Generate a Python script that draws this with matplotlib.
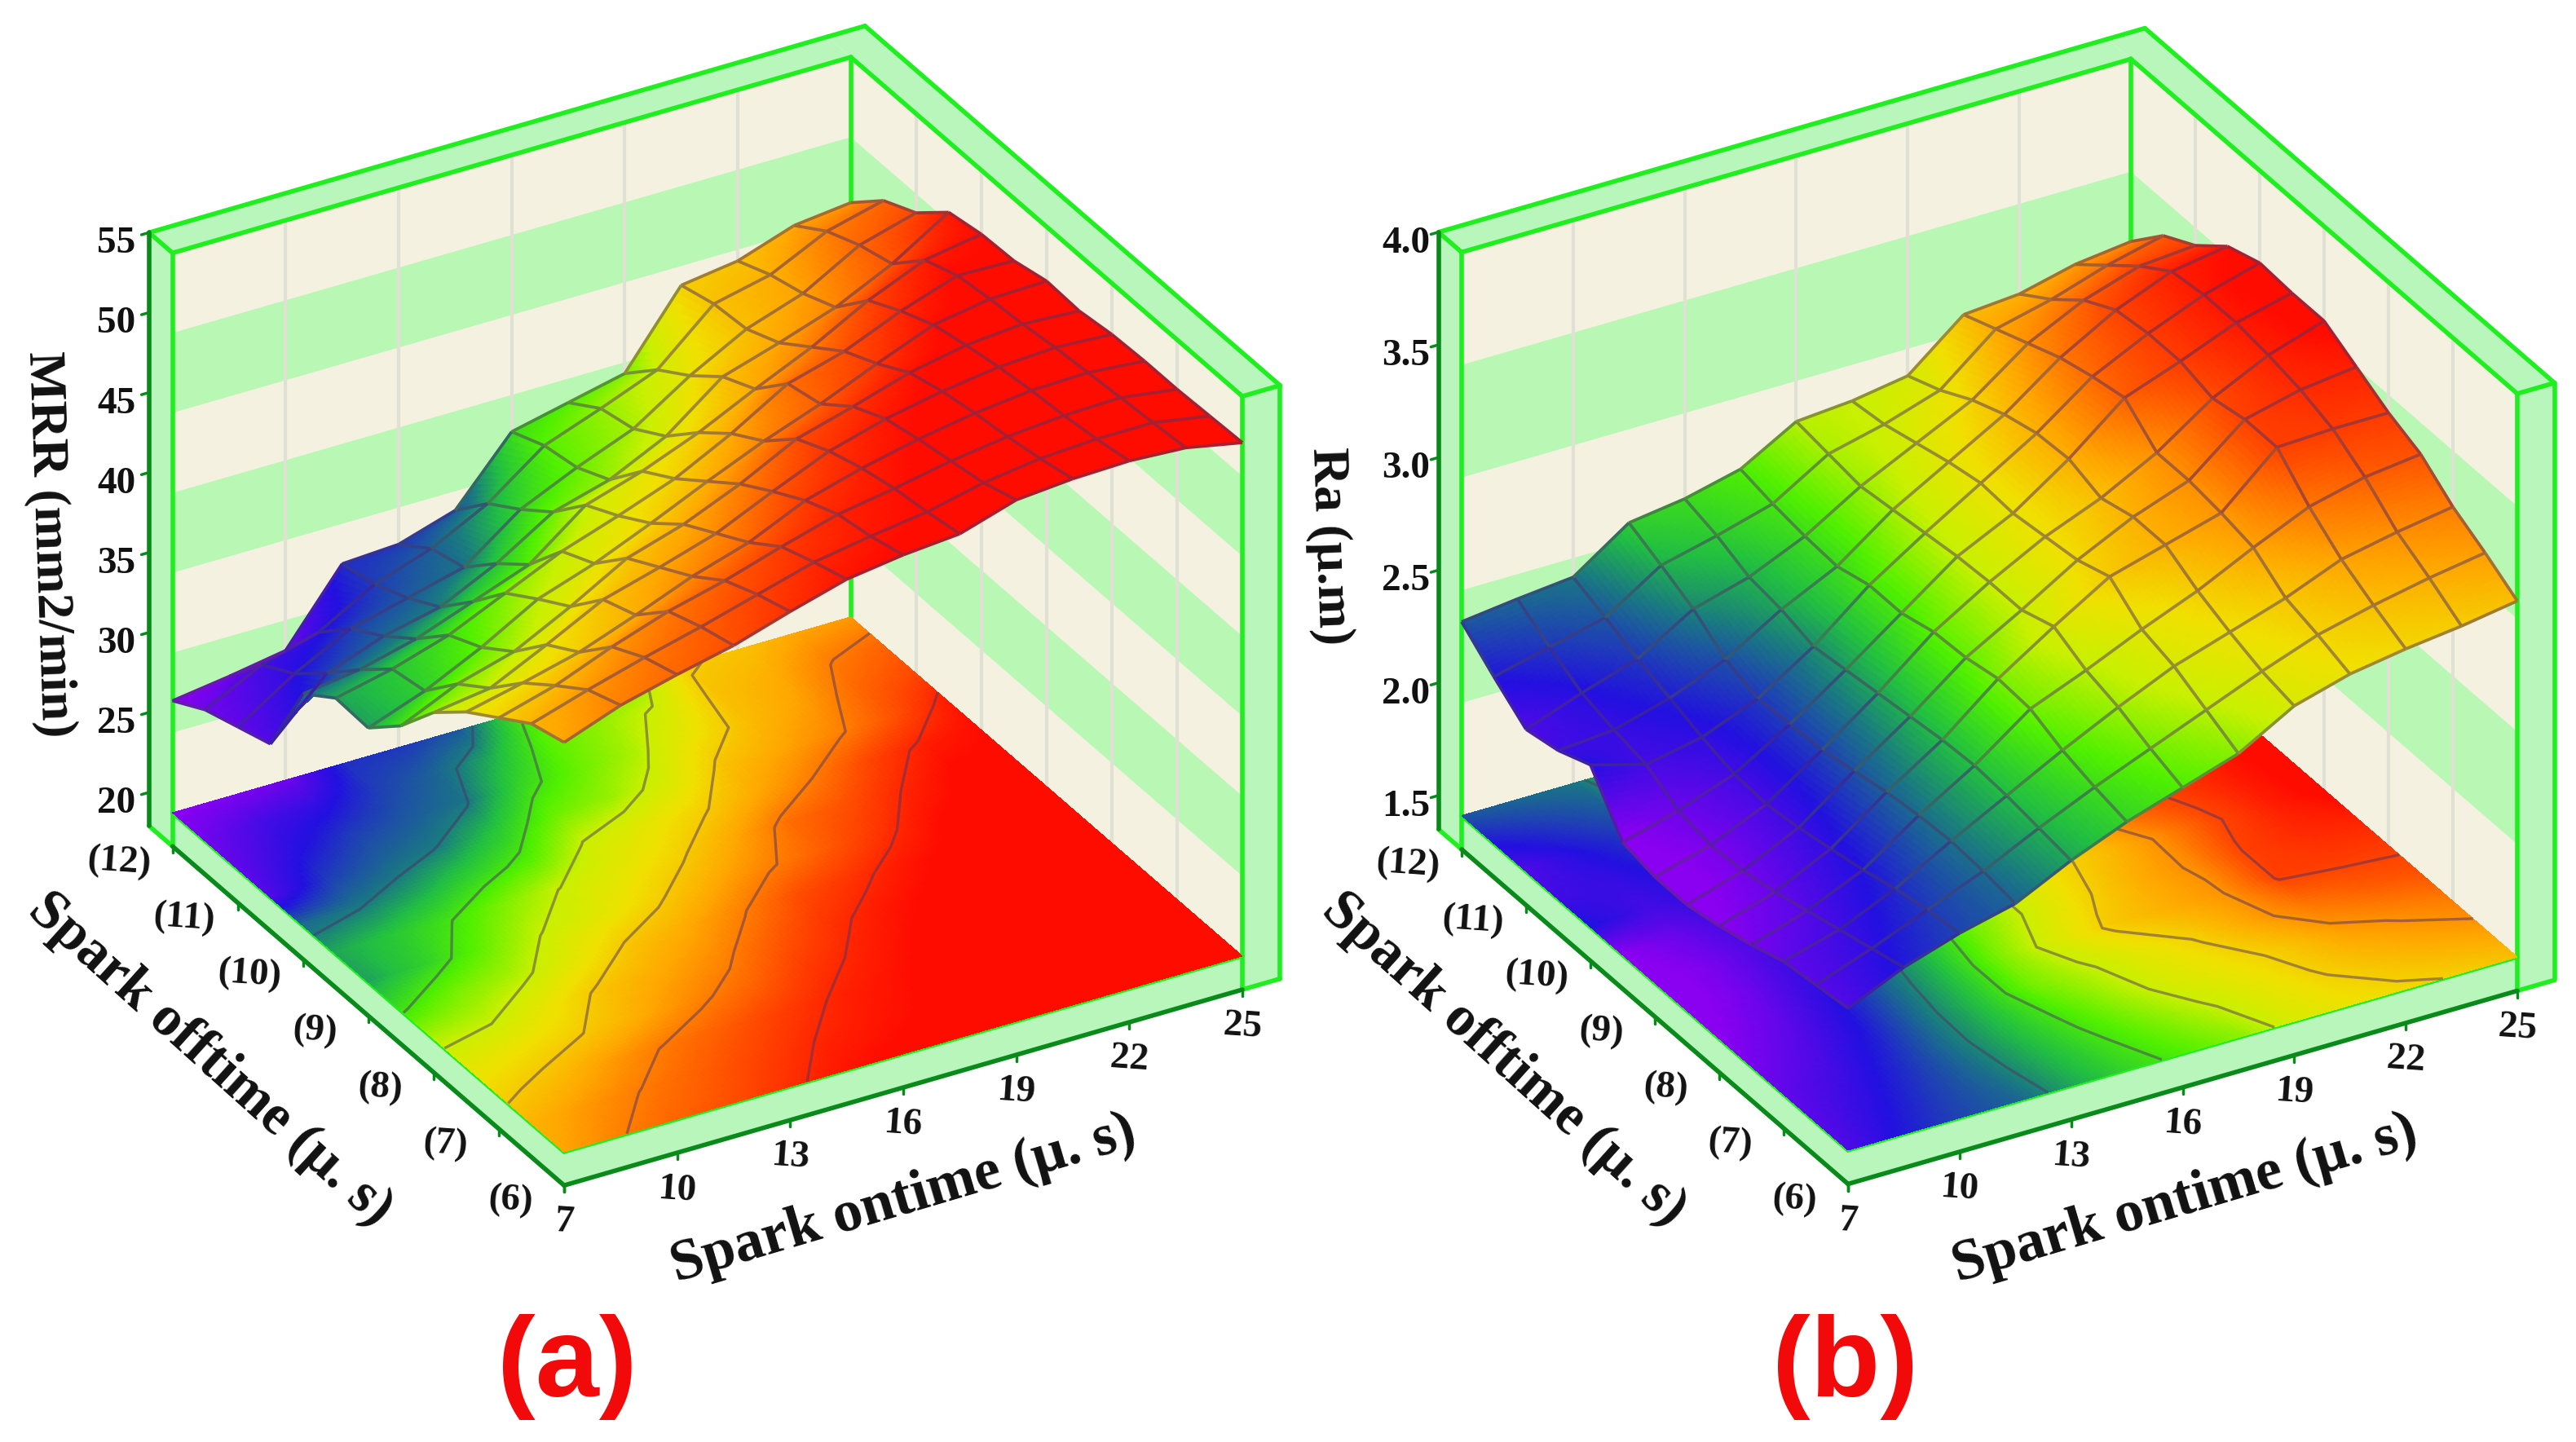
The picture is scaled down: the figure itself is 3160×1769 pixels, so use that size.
import numpy as np
import matplotlib
matplotlib.use('Agg')
from matplotlib import pyplot as plt
from matplotlib.colors import LinearSegmentedColormap
from mpl_toolkits.mplot3d import proj3d
from mpl_toolkits.mplot3d.art3d import Line3DCollection, Poly3DCollection

W, H = 3160, 1769

spark_ontime = np.array([7, 8.5, 10, 11.5, 13, 14.5, 16, 17.5, 19, 20.5, 22, 23.5, 25])
spark_offtime = np.array([6, 6.5, 7, 7.5, 8, 8.5, 9, 9.5, 10, 10.5, 11, 11.5, 12])
ontime_ticks = [7, 10, 13, 16, 19, 22, 25]
offtime_ticks = [6, 7, 8, 9, 10, 11, 12]
mrr_ticks = [20, 25, 30, 35, 40, 45, 50, 55]
ra_ticks = [1.5, 2.0, 2.5, 3.0, 3.5, 4.0]

# rows run from offtime 6 to offtime 12
mrr = np.array([
    [45.6, 46.9, 47.8, 48.6, 49.7, 50.7, 51.2, 51.5, 52.6, 52.9, 53.0, 52.8, 52.1],
    [45.0, 46.1, 47.1, 48.0, 49.0, 50.0, 50.6, 51.1, 51.9, 52.4, 52.6, 52.6, 52.0],
    [43.6, 44.6, 46.0, 47.2, 48.1, 49.2, 50.2, 50.8, 51.5, 52.0, 52.3, 52.4, 51.9],
    [42.2, 43.0, 43.9, 45.2, 46.6, 47.7, 49.3, 50.3, 51.1, 51.7, 52.1, 52.2, 51.9],
    [40.4, 40.9, 42.6, 44.4, 45.4, 46.5, 48.1, 49.6, 50.6, 51.3, 51.8, 52.0, 51.8],
    [37.8, 39.4, 40.4, 42.2, 44.2, 45.3, 46.8, 48.6, 49.6, 50.7, 51.4, 51.7, 51.5],
    [35.9, 37.2, 38.9, 40.9, 42.1, 43.6, 45.2, 46.7, 48.0, 49.5, 50.9, 51.5, 51.6],
    [36.0, 36.8, 37.9, 39.5, 41.1, 42.3, 43.6, 45.4, 47.5, 48.5, 50.0, 51.2, 51.1],
    [34.5, 35.0, 35.9, 37.2, 38.5, 41.2, 42.3, 43.7, 45.4, 47.0, 48.9, 50.4, 51.0],
    [29.6, 33.0, 34.3, 35.1, 36.8, 39.0, 40.0, 41.7, 44.4, 45.5, 46.7, 48.4, 50.6],
    [28.9, 31.2, 33.0, 33.9, 34.8, 37.4, 39.0, 40.4, 42.7, 44.6, 45.8, 47.8, 48.8],
    [28.2, 30.0, 31.0, 33.0, 34.2, 36.0, 38.6, 39.9, 41.3, 44.4, 45.2, 46.9, 47.8],
    [27.0, 27.5, 28.1, 32.5, 32.7, 33.8, 37.7, 38.5, 39.3, 43.8, 44.3, 45.5, 45.9],
])

ra = np.array([
    [2.13, 2.24, 2.32, 2.38, 2.50, 2.60, 2.68, 2.76, 2.90, 2.97, 3.01, 3.04, 3.08],
    [2.11, 2.20, 2.30, 2.40, 2.52, 2.63, 2.73, 2.83, 2.93, 3.02, 3.08, 3.13, 3.17],
    [2.09, 2.16, 2.27, 2.41, 2.54, 2.67, 2.79, 2.90, 2.98, 3.06, 3.16, 3.21, 3.25],
    [2.04, 2.12, 2.23, 2.40, 2.55, 2.73, 2.83, 2.94, 3.04, 3.16, 3.27, 3.33, 3.36],
    [2.00, 2.08, 2.20, 2.38, 2.54, 2.74, 2.90, 3.05, 3.12, 3.19, 3.41, 3.42, 3.42],
    [1.97, 2.05, 2.17, 2.35, 2.52, 2.71, 2.85, 3.00, 3.12, 3.21, 3.41, 3.47, 3.50],
    [1.97, 2.04, 2.15, 2.32, 2.50, 2.70, 2.85, 2.98, 3.08, 3.21, 3.38, 3.50, 3.58],
    [2.00, 2.07, 2.16, 2.31, 2.48, 2.66, 2.84, 2.96, 3.13, 3.33, 3.42, 3.52, 3.58],
    [2.22, 2.15, 2.20, 2.30, 2.46, 2.66, 2.82, 2.97, 3.12, 3.30, 3.42, 3.52, 3.59],
    [2.16, 2.18, 2.25, 2.35, 2.50, 2.62, 2.80, 2.94, 3.08, 3.26, 3.40, 3.50, 3.54],
    [2.13, 2.22, 2.30, 2.45, 2.52, 2.63, 2.78, 2.90, 3.02, 3.20, 3.32, 3.40, 3.42],
    [2.24, 2.30, 2.36, 2.52, 2.58, 2.65, 2.80, 2.86, 2.94, 3.14, 3.20, 3.28, 3.34],
    [2.36, 2.39, 2.415, 2.585, 2.62, 2.68, 2.82, 2.84, 2.88, 3.08, 3.10, 3.16, 3.19],
])

mrr_levels = [35, 38, 41, 44, 47, 50]
ra_levels = [2.45, 2.65, 2.85, 3.03, 3.2, 3.4]
mrr_bands = [(25, 30), (35, 40), (45, 50)]
ra_bands = [(2.0, 2.5), (3.0, 3.5)]

ramp_colors = ['#8a00f0', '#2210e0', '#1a7a80', '#22c040', '#50f000',
               '#c8f000', '#f0e000', '#ffa800', '#ff5000', '#ff0c00']
mrr_stops = [27, 31.5, 35, 36.5, 38.5, 41, 43, 45.5, 48.5, 51]
ra_stops = [2.0, 2.22, 2.42, 2.54, 2.68, 2.84, 2.98, 3.14, 3.36, 3.55]

BEIGE = '#f5f1e0'
BAND = '#b9f8b4'
SLAB = '#b8f6bc'
BRIGHT = '#1fee1f'
DARK = '#0a8a1a'
GRID = '#e0e0d4'
SERIF = 'Liberation Serif'

plt.rcParams['font.family'] = [SERIF, 'DejaVu Serif']
fig = plt.figure(figsize=(W / 100, H / 100), dpi=100, facecolor='white')


def refine(a, n=12):
    # only for the smooth colour shading between grid nodes
    rows = np.arange(a.shape[0])
    cols = np.arange(a.shape[1])
    fine_r = np.linspace(0, rows[-1], rows[-1] * n + 1)
    fine_c = np.linspace(0, cols[-1], cols[-1] * n + 1)
    tmp = np.array([np.interp(fine_c, cols, row) for row in a])
    return np.array([np.interp(fine_r, rows, c) for c in tmp.T]).T


def to_screen(ax, x, y, z):
    x2, y2, _ = proj3d.proj_transform(x, y, z, ax.get_proj())
    return ax.transData.transform((x2, y2))


def face(ax, verts, color, zorder, alpha=1.0):
    poly = Poly3DCollection([verts], facecolors=color, edgecolors='none', alpha=alpha, zorder=zorder)
    ax.add_collection3d(poly, autolim=False)


def line(ax, p, q, color=BRIGHT, lw=4, zorder=1.8):
    ax.plot([p[0], q[0]], [p[1], q[1]], [p[2], q[2]], color=color, lw=lw, zorder=zorder,
            solid_capstyle='round')


def shade_line(cmap, t):
    # grid and contour lines are a darker tone of whatever they sit on
    r, g, b, _ = cmap(t)
    return (0.5 * r + 0.15, 0.5 * g + 0.1, 0.5 * b + 0.2)


def draw_panel(values, levels, bands, stops, zticks, zfmt, aspect, front, right):
    size = 2800
    ax = fig.add_axes([0, 0, size / W, size / H], projection='3d', computed_zorder=False)
    ax.set_proj_type('ortho')
    ax.view_init(elev=30, azim=-120)
    ax.set_axis_off()
    ax.patch.set_visible(False)
    z0, zt = zticks[0], zticks[-1]
    x0, x1 = spark_ontime[0], spark_ontime[-1]
    y0, y1 = spark_offtime[0], spark_offtime[-1]
    ax.set_xlim(x0, x1, view_margin=0)
    ax.set_ylim(y0, y1, view_margin=0)
    ax.set_zlim(z0, zt, view_margin=0)

    # scale and shift the axes so the floor corners land where they should
    ax.set_box_aspect(aspect)
    a = to_screen(ax, x0, y0, z0)
    b = to_screen(ax, x1, y0, z0)
    ax.set_box_aspect(aspect, zoom=(right[0] - front[0]) / (b[0] - a[0]))
    a = to_screen(ax, x0, y0, z0)
    ax.set_position([(front[0] - a[0]) / W, ((H - front[1]) - a[1]) / H, size / W, size / H])
    ax.apply_aspect()

    zb = z0 - 0.06 * (zt - z0)
    ty = y1 + 0.36
    tx = x1 + 1

    # back walls
    face(ax, [(x0, y1, z0), (x1, y1, z0), (x1, y1, zt), (x0, y1, zt)], BEIGE, 1)
    face(ax, [(x1, y0, z0), (x1, y1, z0), (x1, y1, zt), (x1, y0, zt)], BEIGE, 1)
    for lo, hi in bands:
        face(ax, [(x0, y1, lo), (x1, y1, lo), (x1, y1, hi), (x0, y1, hi)], BAND, 1.1)
        face(ax, [(x1, y0, lo), (x1, y1, lo), (x1, y1, hi), (x1, y0, hi)], BAND, 1.1)
    for t in ontime_ticks[1:-1]:
        line(ax, (t, y1, z0), (t, y1, zt), GRID, 3, 1.2)
    for t in offtime_ticks[1:-1]:
        line(ax, (x1, t, z0), (x1, t, zt), GRID, 3, 1.2)

    # wall and floor slabs
    face(ax, [(x0, y1, zt), (x1, y1, zt), (x1, ty, zt), (x0, ty, zt)], SLAB, 1.3)
    face(ax, [(x1, y0, zt), (tx, y0, zt), (tx, ty, zt), (x1, ty, zt)], SLAB, 1.3)
    face(ax, [(x0, y1, zb), (x0, ty, zb), (x0, ty, zt), (x0, y1, zt)], SLAB, 1.3)
    face(ax, [(x1, y0, zb), (tx, y0, zb), (tx, y0, zt), (x1, y0, zt)], SLAB, 1.3)
    face(ax, [(x0, y0, zb), (x0, y1, zb), (x0, y1, z0), (x0, y0, z0)], SLAB, 1.3)
    face(ax, [(x0, y0, zb), (x1, y0, zb), (x1, y0, z0), (x0, y0, z0)], SLAB, 1.3)

    for p, q in [((x0, y1, zt), (x1, y1, zt)), ((x0, ty, zt), (x1, ty, zt)),
                 ((x1, y1, z0), (x1, y1, zt)), ((x1, y0, zt), (x1, y1, zt)),
                 ((tx, y0, zt), (tx, ty, zt)), ((x1, ty, zt), (tx, ty, zt)),
                 ((x1, y0, zt), (tx, y0, zt)), ((x0, y1, zb), (x0, y1, zt)),
                 ((x0, y1, zt), (x0, ty, zt)), ((x1, y0, zb), (x1, y0, zt)),
                 ((tx, y0, zb), (tx, y0, zt)), ((x1, y0, zb), (tx, y0, zb)),
                 ((x0, y0, z0), (x1, y0, z0)), ((x0, y0, z0), (x0, y1, z0)),
                 ((x0, ty, zb), (x0, y1, zb))]:
        line(ax, p, q, BRIGHT, 4, 1.8)
    for p, q in [((x0, ty, zb), (x0, ty, zt)), ((x0, y0, zb), (x0, y1, zb)),
                 ((x0, y0, zb), (x1, y0, zb))]:
        line(ax, p, q, DARK, 4, 1.9)

    # floor map and surface share one colour ramp
    span = stops[-1] - stops[0]
    cmap = LinearSegmentedColormap.from_list('ramp', [((s - stops[0]) / span, c) for s, c in zip(stops, ramp_colors)], N=512)
    X, Y = np.meshgrid(spark_ontime, spark_offtime)
    fX, fY, fZ = refine(X), refine(Y), refine(values)
    colors = cmap((fZ - stops[0]) / span)
    ax.plot_surface(fX, fY, np.full_like(fZ, z0), facecolors=colors, rstride=1, cstride=1,
                    shade=False, linewidth=0, antialiased=False, zorder=2)
    ax.contour(X, Y, values, levels=levels, zdir='z', offset=z0, linewidths=2.4, zorder=3,
               colors=[shade_line(cmap, (v - stops[0]) / span) for v in levels])
    ax.plot_surface(fX, fY, fZ, facecolors=colors, rstride=1, cstride=1,
                    shade=False, linewidth=0, antialiased=False, zorder=4)

    segs, seg_colors = [], []
    nrow, ncol = values.shape
    for r in range(nrow):
        for c in range(ncol):
            p = (X[r, c], Y[r, c], values[r, c])
            for r2, c2 in [(r + 1, c), (r, c + 1)]:
                if r2 < nrow and c2 < ncol:
                    segs.append([p, (X[r2, c2], Y[r2, c2], values[r2, c2])])
                    seg_colors.append(shade_line(cmap, ((values[r, c] + values[r2, c2]) / 2 - stops[0]) / span))
    ax.add_collection3d(Line3DCollection(segs, colors=seg_colors, linewidths=2.7, zorder=5), autolim=False)

    # ticks and tick labels
    font = dict(fontsize=34, fontweight='bold', family=SERIF, ha='center', va='center',
                xycoords='figure pixels', textcoords='offset pixels', color='#111111')
    drop = 0.012 * (zt - z0)
    for t in ontime_ticks:
        line(ax, (t, y0, zb), (t, y0, zb - drop), DARK, 2.5, 2)
        ax.annotate(str(t), to_screen(ax, t, y0, zb), xytext=(0, -46), rotation=-4, **font)
    for t in offtime_ticks:
        line(ax, (x0, t, zb), (x0, t, zb - drop), DARK, 2.5, 2)
        ax.annotate('(%d)' % t, to_screen(ax, x0, t, zb), xytext=(-65, -19), rotation=-4, **font)
    for t in zticks:
        line(ax, (x0, ty, t), (x0 - 0.2, ty, t), DARK, 2.5, 2)
        ax.annotate(zfmt % t, to_screen(ax, x0, ty, t), xytext=(-40, -14), **font)
    return ax


draw_panel(mrr, mrr_levels, mrr_bands, mrr_stops, mrr_ticks, '%d',
           (962, 962, 794), (692, 1413), (1524, 1176))
draw_panel(ra, ra_levels, ra_bands, ra_stops, ra_ticks, '%.1f',
           (948, 948, 798), (2267, 1411), (3088, 1175))


def label(x, y, text, rotation, size=46):
    fig.text(x / W, 1 - y / H, text, rotation=rotation, rotation_mode='anchor', ha='center', va='center',
             fontsize=size, fontweight='bold', family=SERIF, color='#111111')


label(60, 668, 'MRR (mm2/min)', -88)
label(258, 1300, 'Spark offtime (µ. s)', -42, 50)
label(1108, 1472, 'Spark ontime (µ. s)', 16.5, 52)
label(1630, 670, 'Ra (µ.m)', -88)
label(1845, 1300, 'Spark offtime (µ. s)', -42, 50)
label(2680, 1472, 'Spark ontime (µ. s)', 16.5, 52)

for x, t in [(696, '(a)'), (2264, '(b)')]:
    fig.text(x / W, 1 - 1677 / H, t, ha='center', va='center', fontsize=101, fontweight='bold',
             family='Liberation Sans', color='#f20a0a')

fig.savefig('out.png', dpi=100, facecolor='white')
